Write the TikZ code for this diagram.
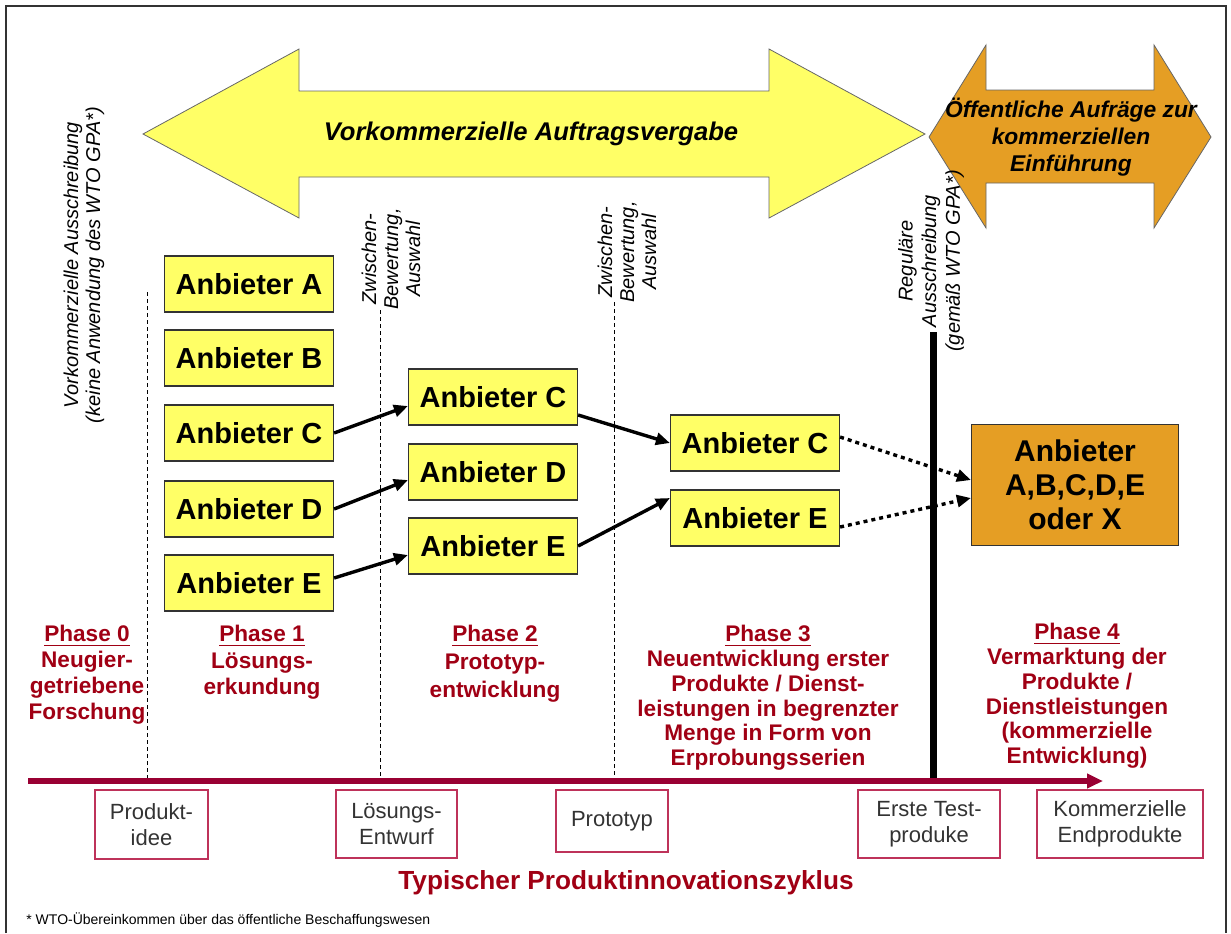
\documentclass[tikz,border=0pt]{standalone}
\usepackage{fontspec}
\setmainfont{Liberation Sans}
\usetikzlibrary{arrows.meta}

\definecolor{gelb}{RGB}{255,255,102}
\definecolor{markt}{RGB}{229,158,36}
\definecolor{weinrot}{RGB}{153,0,51}
\definecolor{phasenrot}{RGB}{160,0,20}
\definecolor{rahmenrot}{RGB}{190,50,90}

\newcommand\kopf[1]{\setbox0\hbox{#1}\leavevmode\rlap{\vrule width\wd0 height -1.4pt depth 2.3pt}\box0}

\tikzset{
  anbieter/.style={draw=black!80, fill=gelb, line width=0.6pt, minimum width=84.5pt,
    minimum height=28pt, inner sep=0pt, font=\bfseries\fontsize{14.5}{17}\selectfont},
  weiter/.style={line width=1.7pt, -{Triangle[length=7pt,width=6pt]}},
  offen/.style={weiter, dash pattern=on 2pt off 2pt},
  schild/.style={rotate=90, align=center, inner sep=0pt, font=\itshape\fontsize{10}{11}\selectfont},
  phase/.style={anchor=north, align=center, inner sep=0pt, text=phasenrot,
    font=\bfseries\fontsize{11.3}{#1}\selectfont},
  phase/.default=12.4,
  stufe/.style={draw=rahmenrot, fill=white, line width=0.6pt, align=center, inner sep=0pt,
    text=black!80, font=\fontsize{11}{13}\selectfont},
  trenner/.style={dashed, dash pattern=on 2pt off 1.5pt, line width=0.5pt},
}

\begin{document}
\begin{tikzpicture}[x=0.5pt,y=-0.5pt]
\useasboundingbox (0,0) rectangle (1231,933);
\draw[line width=0.7pt, black!80] (6,933) -- (6,6) -- (1226,6) -- (1226,933);

% Doppelpfeile oben
\filldraw[fill=gelb, draw=black!60, line width=0.4pt] (143,134) -- (299,49) -- (299,91) -- (769,91)
  -- (769,49) -- (925,134) -- (769,218) -- (769,177) -- (299,177) -- (299,218) -- cycle;
\filldraw[fill=markt, draw=black!60, line width=0.4pt] (929,137) -- (986,45) -- (986,90) -- (1154,90)
  -- (1154,45) -- (1211,137) -- (1154,228) -- (1154,183) -- (986,183) -- (986,228) -- cycle;
\node (vk) at (531,134) {\bfseries\itshape\fontsize{12.8}{15}\selectfont Vorkommerzielle Auftragsvergabe};
\node[align=center, font=\bfseries\itshape\fontsize{11.4}{13.5}\selectfont] (ok) at (1071,137)
  {Öffentliche Aufräge zur\\kommerziellen\\Einführung};

% Zeitachse und Trennlinien
\coordinate (zs) at (28,781);
\coordinate (ze) at (1103,781);
\coordinate (t0) at (147,292);
\coordinate (t1) at (380,310);
\coordinate (t2) at (614,302);
\coordinate (ra) at (933,332);
\draw[trenner] (t0) -- (t0 |- zs);
\draw[trenner] (t1) -- (t1 |- zs);
\draw[trenner] (t2) -- (t2 |- zs);
\draw[line width=3.5pt] (ra) -- (ra |- zs);

\node[schild] (l0) at (84,265) {Vorkommerzielle Ausschreibung\\(keine Anwendung des WTO GPA*)};
\node[schild] (l1) at (391,259) {Zwischen-\\Bewertung,\\Auswahl};
\node[schild] (l2) at (627,252) {Zwischen-\\Bewertung,\\Auswahl};
\node[schild, font=\itshape\fontsize{10}{11.8}\selectfont] (l3) at (931,261)
  {Reguläre\\Ausschreibung\\(gemäß WTO GPA*)};

% Anbieter
\node[anbieter] (a1) at (249,284) {Anbieter A};
\node[anbieter] (b1) at (249,358) {Anbieter B};
\node[anbieter] (c1) at (249,433) {Anbieter C};
\node[anbieter] (d1) at (249,509) {Anbieter D};
\node[anbieter] (e1) at (249,583) {Anbieter E};
\node[anbieter] (c2) at (493,397) {Anbieter C};
\node[anbieter] (d2) at (493,472) {Anbieter D};
\node[anbieter] (e2) at (493,546) {Anbieter E};
\node[anbieter] (c3) at (755,443) {Anbieter C};
\node[anbieter] (e3) at (755,518) {Anbieter E};
\node[anbieter, fill=markt, minimum width=103.5pt, minimum height=60.5pt, align=center,
  font=\bfseries\fontsize{15}{17}\selectfont] (x4) at (1075,485) {Anbieter\\A,B,C,D,E\\oder X};

\draw[weiter] (c1.east) -- ([yshift=-4.5pt]c2.west);
\draw[weiter] (d1.east) -- ([yshift=-4pt]d2.west);
\draw[weiter] ([yshift=2.5pt]e1.east) -- ([yshift=-4.5pt]e2.west);
\draw[weiter] ([yshift=-9pt]c2.east) -- (c3.west);
\draw[weiter] (e2.east) -- ([yshift=10pt]e3.west);
\draw[offen] ([yshift=3pt]c3.east) -- ([yshift=2.5pt]x4.west);
\draw[offen] ([yshift=-4.5pt]e3.east) -- ([yshift=-6.5pt]x4.west);

% Phasen
\node[phase=13] (p0) at (87,625) {\kopf{Phase 0}\\Neugier-\\getriebene\\Forschung};
\node[phase=13.2] (p1) at (262,625) {\kopf{Phase 1}\\Lösungs-\\erkundung};
\node[phase=14] (p2) at (495,625) {\kopf{Phase 2}\\Prototyp-\\entwicklung};
\node[phase] (p3) at (768,625) {\kopf{Phase 3}\\Neuentwicklung erster\\Produkte / Dienst-\\leistungen in begrenzter\\Menge in Form von\\Erprobungsserien};
\node[phase] (p4) at (1077,623) {\kopf{Phase 4}\\Vermarktung der\\Produkte /\\Dienstleistungen\\(kommerzielle\\Entwicklung)};

\draw[weinrot, line width=2.6pt, -{Triangle[length=8pt,width=7pt]}] (zs) -- (ze);

% Stufen
\node[stufe, minimum width=56.5pt, minimum height=34.5pt] (s0) at (151.5,824.5) {Produkt-\\idee};
\node[stufe, minimum width=60.5pt, minimum height=34pt] (s1) at (396.5,824) {Lösungs-\\Entwurf};
\node[stufe, minimum width=56pt, minimum height=31pt] (s2) at (612,821) {Prototyp};
\node[stufe, minimum width=71pt, minimum height=34pt] (s3) at (929,824) {Erste Test-\\produke};
\node[stufe, minimum width=83pt, minimum height=34pt] (s4) at (1120,824) {Kommerzielle\\Endprodukte};

\node[text=phasenrot, font=\bfseries\fontsize{13.1}{15}\selectfont] (zyk) at (626,883) {Typischer Produktinnovationszyklus};
\node[anchor=west, inner sep=0pt, font=\fontsize{7}{8}\selectfont] (fn) at (26,920) {* WTO-Übereinkommen über das öffentliche Beschaffungswesen};
\end{tikzpicture}
\end{document}
